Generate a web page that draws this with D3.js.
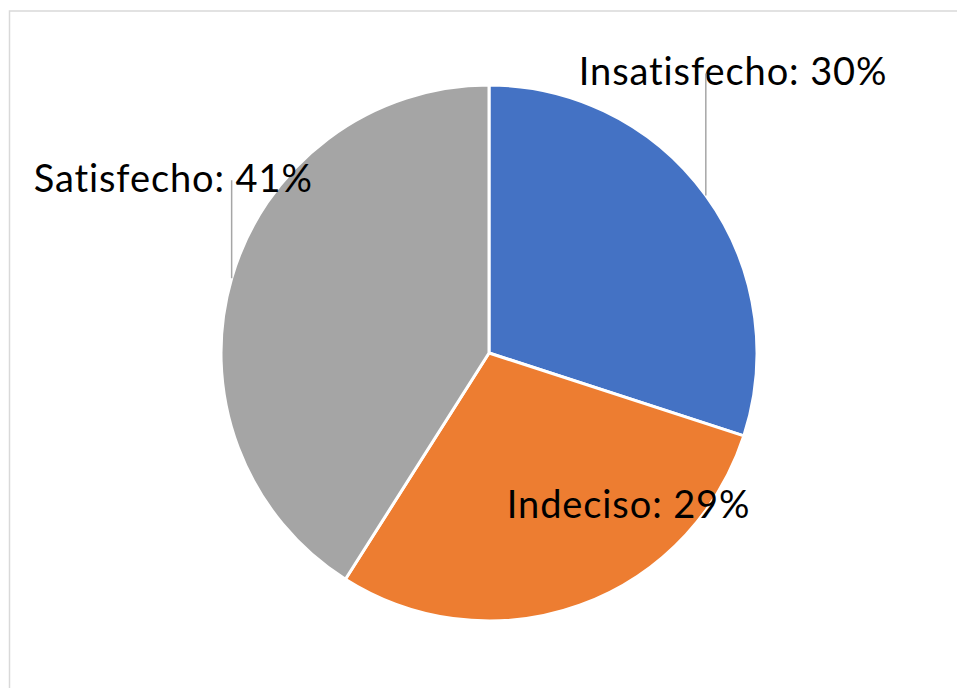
<!DOCTYPE html>
<html>
<head>
<meta charset="utf-8">
<style>
  html, body { margin: 0; padding: 0; background: #fff; }
  svg { display: block; }
</style>
</head>
<body>
<svg id="chart" width="957" height="688" viewBox="0 0 957 688" xmlns="http://www.w3.org/2000/svg"></svg>
<script src="https://d3js.org/d3.v7.min.js"></script>
<script>

// data
const categories = ["Insatisfecho", "Indeciso", "Satisfecho"];
const percents = [30, 29, 41];
const colors = ["#4472c4", "#ed7d31", "#a5a5a5"];

// label placement, relative to the point on the rim at each slice's mid angle
// (dx, dy = text start / baseline offset; leader = draw a line up to the text)
const labelOffsets = [
  { dx: -127, dy: -110, leader: true },
  { dx: -73,  dy: -87,  leader: false },
  { dx: -198, dy: -86,  leader: true }
];

const width = 957, height = 688;
const center = { x: 489, y: 353 };
const radius = 268;

const svg = d3.select("#chart");

// chart area border (right and bottom edges fall outside the picture)
svg.append("rect")
  .attr("x", 9.5)
  .attr("y", 11)
  .attr("width", 1000)
  .attr("height", 800)
  .attr("fill", "none")
  .attr("stroke", "#d9d9d9")
  .attr("stroke-width", 1.5);

const pie = d3.pie().sort(null).value(d => d)(percents);

const arc = d3.arc()
  .innerRadius(0)
  .outerRadius(radius);

const g = svg.append("g")
  .attr("transform", `translate(${center.x},${center.y})`);

g.selectAll("path")
  .data(pie)
  .join("path")
  .attr("d", arc)
  .attr("fill", (d, i) => colors[i])
  .attr("stroke", "#fff")
  .attr("stroke-width", 3)
  .attr("stroke-linejoin", "round");

// labels with leader lines
pie.forEach((d, i) => {
  const mid = (d.startAngle + d.endAngle) / 2;
  const px = center.x + radius * Math.sin(mid);
  const py = center.y - radius * Math.cos(mid);
  const off = labelOffsets[i];
  const tx = px + off.dx;
  const ty = py + off.dy;

  svg.append("text")
    .attr("x", tx)
    .attr("y", ty)
    .attr("font-family", "Lato, 'Open Sans', sans-serif")
    .attr("font-size", "38px")
    .attr("letter-spacing", "0.9px")
    .attr("fill", "#000")
    .text(`${categories[i]}: ${percents[i]}%`);

  if (off.leader) {
    svg.append("line")
      .attr("x1", px)
      .attr("y1", py)
      .attr("x2", px)
      .attr("y2", ty - 12)
      .attr("stroke", "#a6a6a6")
      .attr("stroke-width", 1.5);
  }
});
</script>
</body>
</html>
